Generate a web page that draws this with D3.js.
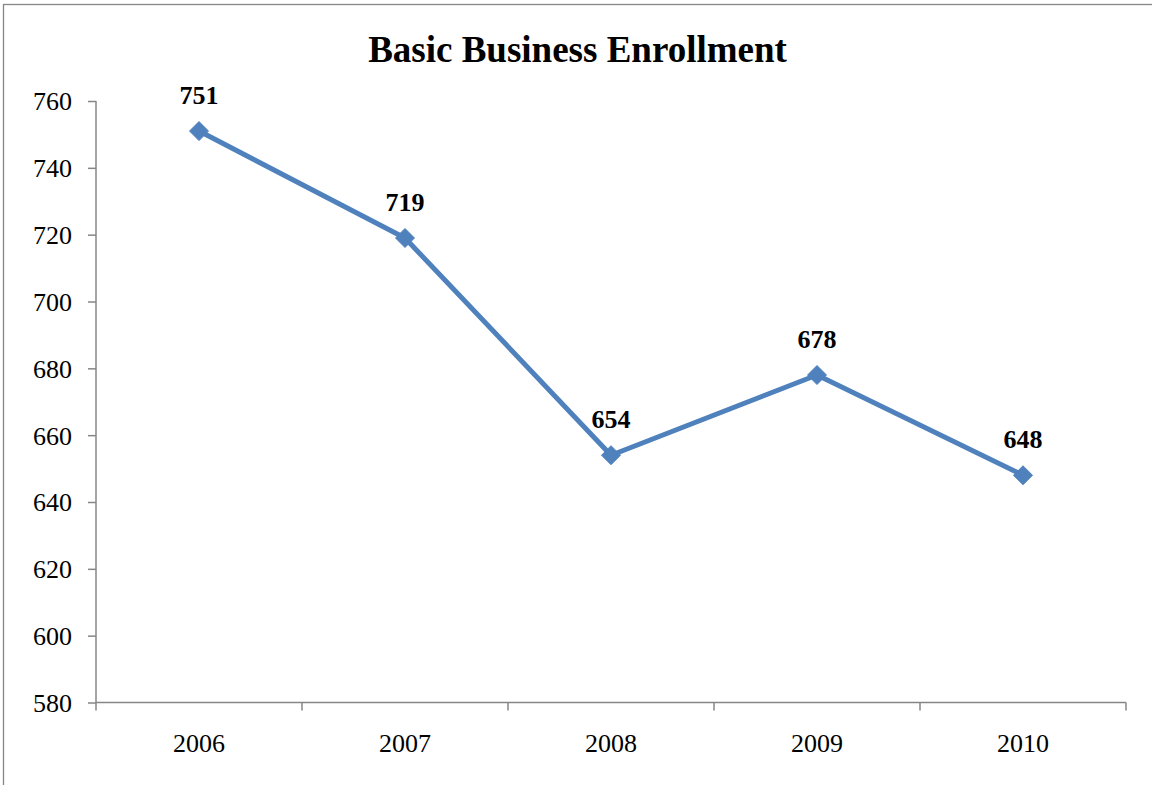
<!DOCTYPE html>
<html>
<head>
<meta charset="utf-8">
<script src="https://cdn.jsdelivr.net/npm/d3@7"></script>
<style>
  html, body { margin: 0; padding: 0; background: #fff; }
  svg { display: block; }
  text { font-family: "Liberation Serif", "Times New Roman", serif; fill: #000; }
</style>
</head>
<body>
<svg id="chart" width="1152" height="785"></svg>
<script>
// Enrollment per year
const years = ["2006", "2007", "2008", "2009", "2010"];
const enrollment = [751, 719, 654, 678, 648];
const yTicks = [580, 600, 620, 640, 660, 680, 700, 720, 740, 760];
const title = "Basic Business Enrollment";

const svg = d3.select("#chart");
const W = 1152, H = 785;
const plot = { left: 96, right: 1126, top: 101, bottom: 702.5 };
const axisColor = "#868686";
const lineColor = "#4F81BD";

// outer chart frame (runs past the right and bottom edges of the page)
svg.append("rect")
  .attr("x", 3.5).attr("y", 4.5)
  .attr("width", W + 20).attr("height", H + 20)
  .attr("fill", "none").attr("stroke", axisColor).attr("stroke-width", 1.3);

const x = d3.scaleBand().domain(years).range([plot.left, plot.right]);
const y = d3.scaleLinear().domain([580, 760]).range([plot.bottom, plot.top]);

// title
svg.append("text")
  .attr("x", 577.5).attr("y", 62)
  .attr("text-anchor", "middle")
  .attr("font-size", 37).attr("font-weight", "bold")
  .text(title);

// y axis
const yAxis = svg.append("g")
  .attr("transform", `translate(${plot.left},0)`)
  .call(d3.axisLeft(y).tickValues(yTicks).tickSize(8).tickPadding(16).tickFormat(d3.format("d")));
yAxis.selectAll("path, line").attr("stroke", axisColor).attr("stroke-width", 1.5);
yAxis.select(".domain").attr("d", `M0,${plot.top}V${plot.bottom}`);
yAxis.selectAll("text")
  .attr("font-family", "Liberation Serif, Times New Roman, serif")
  .attr("font-size", 26).attr("fill", "#000").attr("dy", "0.34em");

// x axis with ticks on category boundaries
const xAxis = svg.append("g")
  .attr("transform", `translate(0,${plot.bottom})`);
xAxis.append("line")
  .attr("x1", plot.left).attr("x2", plot.right)
  .attr("stroke", axisColor).attr("stroke-width", 1.5);
const bounds = years.map(d => x(d)).concat([x(years[years.length - 1]) + x.bandwidth()]);
xAxis.selectAll("line.tick").data(bounds).join("line")
  .attr("class", "tick")
  .attr("x1", d => d).attr("x2", d => d)
  .attr("y1", 0).attr("y2", 8)
  .attr("stroke", axisColor).attr("stroke-width", 1.5);
xAxis.selectAll("text").data(years).join("text")
  .attr("x", d => x(d) + x.bandwidth() / 2)
  .attr("y", 49)
  .attr("text-anchor", "middle")
  .attr("font-size", 26)
  .text(d => d);

const pts = years.map((d, i) => ({ year: d, value: enrollment[i] }));
const cx = d => x(d.year) + x.bandwidth() / 2;

// series line
svg.append("path")
  .datum(pts)
  .attr("fill", "none")
  .attr("stroke", lineColor)
  .attr("stroke-width", 5)
  .attr("stroke-linejoin", "round")
  .attr("d", d3.line().x(cx).y(d => y(d.value)));

// diamond markers
svg.selectAll("path.marker").data(pts).join("path")
  .attr("class", "marker")
  .attr("transform", d => `translate(${cx(d)},${y(d.value)})`)
  .attr("d", "M0,-9.5L9.5,0L0,9.5L-9.5,0Z")
  .attr("fill", lineColor)
  .attr("stroke", lineColor)
  .attr("stroke-width", 1);

// value labels
svg.selectAll("text.value").data(pts).join("text")
  .attr("class", "value")
  .attr("x", cx)
  .attr("y", d => y(d.value) - 27)
  .attr("text-anchor", "middle")
  .attr("font-size", 26).attr("font-weight", "bold")
  .text(d => d.value);
</script>
</body>
</html>
